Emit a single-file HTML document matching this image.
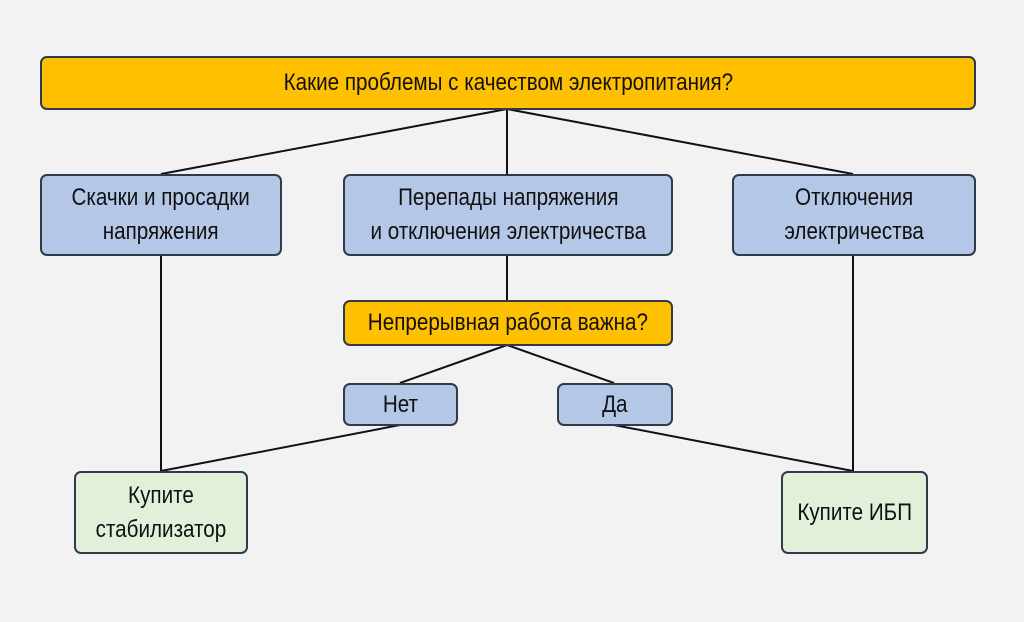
<!DOCTYPE html>
<html><head><meta charset="utf-8"><style>
body{margin:0;width:1024px;height:622px;background:#f2f2f2;position:relative;overflow:hidden;font-family:"Liberation Sans",sans-serif;}
.b{position:absolute;box-sizing:border-box;border:2px solid #2f3a4a;border-radius:7px;display:flex;align-items:center;justify-content:center;text-align:center;font-size:24px;line-height:34px;color:#111;}
.b span{display:inline-block;transform:scaleX(0.86);white-space:nowrap}
.y{background:#ffc000}.bl{background:#b4c7e7}.g{background:#e2f0d9}
svg{position:absolute;left:0;top:0}
</style></head><body>
<svg width="1024" height="622"><g stroke="#111" stroke-width="2" fill="none">
<line x1="507" y1="109" x2="161" y2="174"/><line x1="507" y1="109" x2="507" y2="174"/><line x1="507" y1="109" x2="853" y2="174"/>
<line x1="507" y1="255" x2="507" y2="300"/>
<line x1="507" y1="345" x2="400" y2="383"/><line x1="507" y1="345" x2="614" y2="383"/>
<line x1="161" y1="255" x2="161" y2="471"/><line x1="400" y1="425" x2="161" y2="471"/>
<line x1="853" y1="255" x2="853" y2="471"/><line x1="614" y1="425" x2="853" y2="471"/>
</g></svg>
<div class="b y" style="left:40px;top:56px;width:936px;height:54px"><span>Какие проблемы с качеством электропитания?</span></div>
<div class="b bl" style="left:40px;top:174px;width:242px;height:82px"><span>Скачки и просадки<br>напряжения</span></div>
<div class="b bl" style="left:343px;top:174px;width:330px;height:82px"><span>Перепады напряжения<br>и отключения электричества</span></div>
<div class="b bl" style="left:732px;top:174px;width:244px;height:82px"><span>Отключения<br>электричества</span></div>
<div class="b y" style="left:343px;top:300px;width:330px;height:46px"><span>Непрерывная работа важна?</span></div>
<div class="b bl" style="left:343px;top:383px;width:115px;height:43px"><span>Нет</span></div>
<div class="b bl" style="left:557px;top:383px;width:116px;height:43px"><span>Да</span></div>
<div class="b g" style="left:74px;top:471px;width:174px;height:83px"><span>Купите<br>стабилизатор</span></div>
<div class="b g" style="left:781px;top:471px;width:147px;height:83px"><span>Купите ИБП</span></div>
</body></html>
